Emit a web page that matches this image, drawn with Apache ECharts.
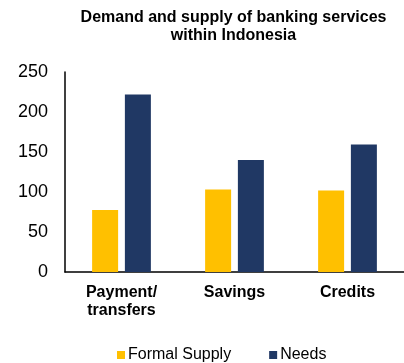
<!DOCTYPE html>
<html>
<head>
<meta charset="utf-8">
<script src="https://cdn.jsdelivr.net/npm/echarts@6/dist/echarts.min.js"></script>
<style>
html,body{margin:0;padding:0;background:#fff;}
#chart{width:404px;height:363px;}
</style>
</head>
<body>
<div id="chart"></div>
<script>
const categories = ['Payment/\ntransfers', 'Savings', 'Credits'];
const formalSupply = [77.5, 103, 102];
const needs = [222, 140, 159.5];
const yTicks = [0, 50, 100, 150, 200, 250];

const chart = echarts.init(document.getElementById('chart'), null, {renderer: 'canvas'});
chart.setOption({
  animation: false,
  title: {
    text: 'Demand and supply of banking services\nwithin Indonesia',
    left: 228.5,
    textAlign: 'center',
    top: 4,
    padding: 5,
    textStyle: {fontFamily: 'Liberation Sans', fontWeight: 'bold', fontSize: 16, color: '#000', lineHeight: 18}
  },
  legend: {
    top: 347,
    left: 117,
    padding: 0,
    itemWidth: 8,
    itemHeight: 8,
    itemGap: 38,
    icon: 'rect',
    textStyle: {fontFamily: 'Liberation Sans', fontSize: 16, color: '#000', lineHeight: 16, padding: [0,0,0,-2]},
    data: ['Formal Supply', 'Needs']
  },
  grid: {left: 65, right: -4, top: 72, bottom: 91},
  xAxis: {
    type: 'category',
    data: categories,
    axisLine: {lineStyle: {color: '#000', width: 1.5}},
    axisTick: {show: false},
    axisLabel: {fontFamily: 'Liberation Sans', fontWeight: 'bold', fontSize: 16, color: '#000', lineHeight: 18, margin: 12}
  },
  yAxis: {
    type: 'value',
    min: 0, max: 250, interval: 50,
    axisLine: {show: true, lineStyle: {color: '#000', width: 1.5}},
    axisTick: {show: false},
    splitLine: {show: false},
    axisLabel: {fontFamily: 'Liberation Sans', fontSize: 18, color: '#000', margin: 17,
      formatter: v => yTicks.includes(v) ? String(v) : ''}
  },
  series: [
    {name: 'Formal Supply', type: 'bar', data: formalSupply, barWidth: 26, barGap: '26%',
     itemStyle: {color: '#FFC000'}},
    {name: 'Needs', type: 'bar', data: needs, barWidth: 26,
     itemStyle: {color: '#203864'}}
  ]
});
</script>
</body>
</html>
